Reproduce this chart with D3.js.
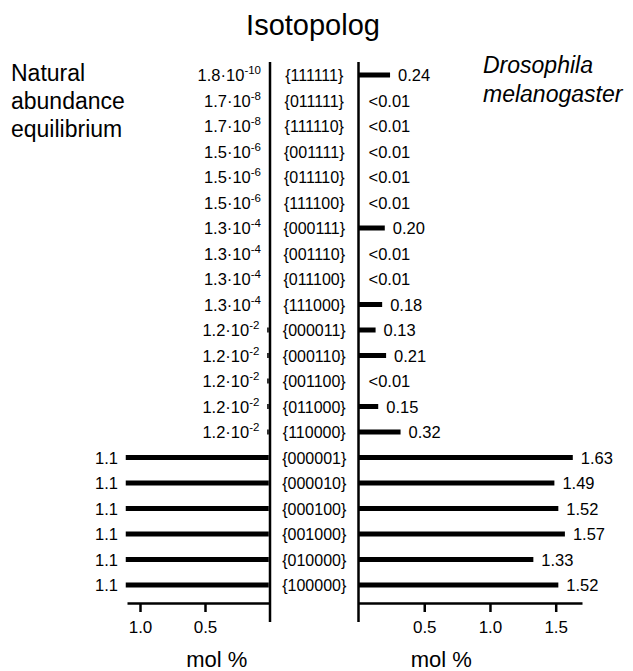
<!DOCTYPE html>
<html>
<head>
<meta charset="utf-8">
<script src="https://cdn.jsdelivr.net/npm/d3@7"></script>
<style>
  body { margin: 0; background: #fff; }
  svg text { font-family: "Liberation Sans", Arial, sans-serif; fill: #000; }
</style>
</head>
<body>
<div id="main"></div>
<script>
// isotopologs, top to bottom
const isotopologs = ["{111111}", "{011111}", "{111110}", "{001111}", "{011110}", "{111100}",
    "{000111}", "{001110}", "{011100}", "{111000}", "{000011}", "{000110}", "{001100}",
    "{011000}", "{110000}", "{000001}", "{000010}", "{000100}", "{001000}", "{010000}", "{100000}"];

// natural abundance equilibrium, mol %
const naturalValues = [1.8e-10, 1.7e-8, 1.7e-8, 1.5e-6, 1.5e-6, 1.5e-6,
    1.3e-4, 1.3e-4, 1.3e-4, 1.3e-4, 1.2e-2, 1.2e-2, 1.2e-2,
    1.2e-2, 1.2e-2, 1.1, 1.1, 1.1, 1.1, 1.1, 1.1];

// Drosophila melanogaster, mol % (0 = below 0.01)
const dmelValues = [0.24, 0, 0, 0, 0, 0, 0.20, 0, 0, 0.18, 0.13, 0.21, 0,
    0.15, 0.32, 1.63, 1.49, 1.52, 1.57, 1.33, 1.52];

const leftTicks = [1.0, 0.5];
const rightTicks = [0.5, 1.0, 1.5];

const ctx = {
    w: 633,
    h: 671,
    BAR_W: 5,
    AXIS_W: 2.5,
    FS: 16.5,
};

function sciLabel(sel, v){
    // 1.8e-10 -> 1.8·10 with superscript -10
    let parts = v.toExponential(1).split("e");
    let exp = +parts[1];
    if (exp === 0) {
        sel.text(parts[0]);
        return;
    }
    sel.append("tspan").text(parts[0] + "\u00b7" + "10");
    sel.append("tspan").attr("dy", -7).attr("font-size", 11.5).text(exp);
}

function createViz(){
    let svg = d3.select("#main").append("svg")
        .attr("width", ctx.w)
        .attr("height", ctx.h);

    let y = d3.scalePoint().domain(isotopologs).range([75, 585]);
    let xL = d3.scaleLinear().domain([0, 1.1]).range([270, 127]);
    let xR = d3.scaleLinear().domain([0, 1.7]).range([358.5, 582]);
    let axisY = 603;
    let half = ctx.AXIS_W / 2;

    // title + side captions
    svg.append("text").attr("x", 313).attr("y", 35)
        .attr("text-anchor", "middle").attr("font-size", 29).text("Isotopolog");

    let nat = svg.append("text").attr("x", 11).attr("y", 81).attr("font-size", 23);
    ["Natural", "abundance", "equilibrium"].forEach(function(s, i){
        nat.append("tspan").attr("x", 11).attr("dy", i == 0 ? 0 : 28).text(s);
    });
    let dro = svg.append("text").attr("x", 483).attr("y", 73)
        .attr("font-size", 23).attr("font-style", "italic");
    ["Drosophila", "melanogaster"].forEach(function(s, i){
        dro.append("tspan").attr("x", 483).attr("dy", i == 0 ? 0 : 29).text(s);
    });

    // bars (start at the outer edge of the axis line so tiny ones stay visible)
    svg.append("g").selectAll("line")
        .data(naturalValues)
        .enter().append("line")
        .attr("x1", xL(0) - half).attr("x2", function(d){ return xL(d) - half; })
        .attr("y1", function(d, i){ return y(isotopologs[i]); })
        .attr("y2", function(d, i){ return y(isotopologs[i]); })
        .attr("stroke", "#000").attr("stroke-width", ctx.BAR_W);

    svg.append("g").selectAll("line")
        .data(dmelValues)
        .enter().append("line")
        .attr("x1", xR(0)).attr("x2", function(d){ return xR(d); })
        .attr("y1", function(d, i){ return y(isotopologs[i]); })
        .attr("y2", function(d, i){ return y(isotopologs[i]); })
        .attr("stroke", "#000").attr("stroke-width", ctx.BAR_W);

    // value labels
    svg.append("g").selectAll("text")
        .data(naturalValues)
        .enter().append("text")
        .attr("x", function(d){ return xL(d) - 9; })
        .attr("y", function(d, i){ return y(isotopologs[i]) + 6; })
        .attr("text-anchor", "end").attr("font-size", ctx.FS)
        .each(function(d){ sciLabel(d3.select(this), d); });

    svg.append("g").selectAll("text")
        .data(dmelValues)
        .enter().append("text")
        .attr("x", function(d){ return xR(d) + (d < 0.01 ? 10 : 8); })
        .attr("y", function(d, i){ return y(isotopologs[i]) + 6; })
        .attr("font-size", ctx.FS)
        .text(function(d){ return d < 0.01 ? "<0.01" : d.toFixed(2); });

    // isotopolog names between the axes
    svg.append("g").selectAll("text")
        .data(isotopologs)
        .enter().append("text")
        .attr("x", (xL(0) + xR(0)) / 2)
        .attr("y", function(d){ return y(d) + 6; })
        .attr("text-anchor", "middle").attr("font-size", 16)
        .text(function(d){ return d; });

    // vertical axes
    [xL(0), xR(0)].forEach(function(x){
        svg.append("line").attr("x1", x).attr("x2", x)
            .attr("y1", 62).attr("y2", 622)
            .attr("stroke", "#000").attr("stroke-width", ctx.AXIS_W);
    });

    // bottom axes
    let axL = d3.axisBottom(xL).tickValues(leftTicks).tickSizeInner(9).tickSizeOuter(0)
        .tickPadding(9).tickFormat(d3.format(".1f"));
    let axR = d3.axisBottom(xR).tickValues(rightTicks).tickSizeInner(9).tickSizeOuter(0)
        .tickPadding(9).tickFormat(d3.format(".1f"));
    [axL, axR].forEach(function(ax){
        let g = svg.append("g").attr("transform", "translate(0," + axisY + ")").call(ax);
        g.selectAll("path, line").attr("stroke", "#000").attr("stroke-width", ctx.AXIS_W);
        g.selectAll("text").attr("font-size", 17).attr("fill", "#000")
            .attr("font-family", "Liberation Sans, Arial, sans-serif");
    });

    svg.append("text").attr("x", xL(0.41)).attr("y", 667)
        .attr("text-anchor", "middle").attr("font-size", 22).text("mol %");
    svg.append("text").attr("x", xR(0.63)).attr("y", 667)
        .attr("text-anchor", "middle").attr("font-size", 22).text("mol %");
}

createViz();
</script>
</body>
</html>
